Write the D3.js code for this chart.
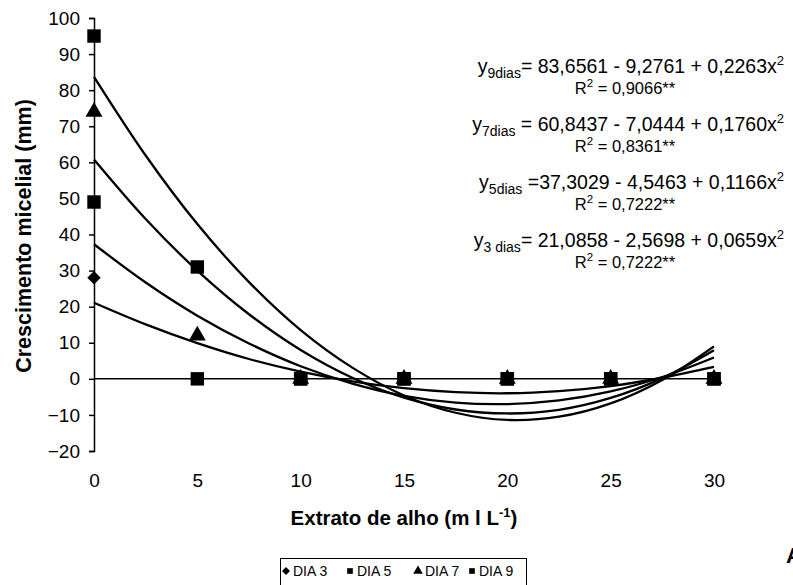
<!DOCTYPE html>
<html>
<head>
<meta charset="utf-8">
<script src="https://cdn.jsdelivr.net/npm/d3@7"></script>
<style>
body{margin:0;background:#fff;}
svg{display:block;font-family:"Liberation Sans",Arial,sans-serif;}
</style>
</head>
<body>
<div id="chart"></div>
<script>
// pontos observados (mm)
var doses=[0,5,10,15,20,25,30];
var dia3=[28,0,0,0,0,0,0];
var dia5=[49,0,0,0,0,0,0];
var dia7=[74,12,0,0,0,0,0];
var dia9=[95,31,0,0,0,0,0];

// curvas de regressao
var xCurva=[0,2.5,5,7.5,10,12.5,15,17.5,20,22.5,25,27.5,30];
var curva9=[83.7,61.9,42.9,26.8,13.5,3.1,-4.6,-9.4,-11.4,-10.5,-6.8,-0.3,9.0];
var curva7=[60.8,44.3,30.0,17.9,8.0,0.3,-5.2,-8.5,-9.6,-8.6,-5.3,0.2,7.9];
var curva5=[37.3,26.7,17.5,9.8,3.5,-1.3,-4.7,-6.6,-7.0,-6.0,-3.5,0.5,5.9];
var curva3=[21.1,15.1,9.9,5.5,2.0,-0.7,-2.6,-3.7,-4.0,-3.4,-2.0,0.3,3.3];

var yTicks=[-20,-10,0,10,20,30,40,50,60,70,80,90,100];
var xTicks=[0,5,10,15,20,25,30];

var equacoes=[
	{sub:"9dias",eq:"= 83,6561 - 9,2761 + 0,2263x",r2:"0,9066**"},
	{sub:"7dias",eq:" = 60,8437 - 7,0444 + 0,1760x",r2:"0,8361**"},
	{sub:"5dias",eq:" =37,3029 - 4,5463 + 0,1166x",r2:"0,7222**"},
	{sub:"3 dias",eq:"= 21,0858 - 2,5698 + 0,0659x",r2:"0,7222**"}
];
var legenda=["DIA 3","DIA 5","DIA 7","DIA 9"];

var W=793,H=585;
var svg=d3.select("#chart").append("svg").attr("width",W).attr("height",H);

var x=d3.scaleLinear().domain([0,30]).range([94,714]);
var y=d3.scaleLinear().domain([-20,100]).range([451,18]);

// eixo y
var yAxis=d3.axisLeft(y).tickValues(yTicks).tickSize(5).tickPadding(9);
var gy=svg.append("g").attr("transform","translate("+x(0)+",0)").call(yAxis);
gy.select(".domain").attr("stroke","#000").attr("stroke-width",1.5);
gy.selectAll(".tick line").attr("stroke","#000").attr("stroke-width",1.5);
gy.selectAll(".tick text").attr("font-size",19).attr("fill","#000").attr("font-family","Liberation Sans, Arial, sans-serif");

// linha do zero
svg.append("line").attr("x1",x(0)).attr("x2",x(30)).attr("y1",y(0)).attr("y2",y(0))
	.attr("stroke","#000").attr("stroke-width",1.5);

// rotulos do eixo x (embaixo)
var xAxis=d3.axisBottom(x).tickValues(xTicks).tickSize(0).tickPadding(0);
var gx=svg.append("g").attr("transform","translate(0,473)").call(xAxis);
gx.select(".domain").remove();
gx.selectAll(".tick text").attr("font-size",19).attr("fill","#000").attr("font-family","Liberation Sans, Arial, sans-serif");

// titulos
svg.append("text").attr("transform","translate(31,236) rotate(-90)")
	.attr("text-anchor","middle").attr("font-size",21.5).attr("font-weight","bold")
	.text("Crescimento micelial (mm)");
var tx=svg.append("text").attr("x",(x(0)+x(30))/2).attr("y",525)
	.attr("text-anchor","middle").attr("font-size",20.5).attr("font-weight","bold");
tx.append("tspan").text("Extrato de alho (m l L");
tx.append("tspan").attr("font-size",13).attr("dy",-8).text("-1");
tx.append("tspan").attr("dy",8).text(")");

// curvas
var line=d3.line().x(function(d){return x(d[0]);}).y(function(d){return y(d[1]);}).curve(d3.curveCatmullRom.alpha(0.5));
[curva3,curva5,curva7,curva9].forEach(function(c){
	svg.append("path").datum(d3.zip(xCurva,c)).attr("d",line)
		.attr("fill","none").attr("stroke","#000").attr("stroke-width",2.3);
});

// marcadores
var simbolos=[
	{dados:dia3,tipo:d3.symbolSquare,tam:90,rot:45},
	{dados:dia5,tipo:d3.symbolSquare,tam:180,rot:0},
	{dados:dia7,tipo:d3.symbolTriangle,tam:125,rot:0},
	{dados:dia9,tipo:d3.symbolSquare,tam:180,rot:0}
];
simbolos.forEach(function(s){
	svg.append("g").selectAll("path").data(d3.zip(doses,s.dados)).enter().append("path")
		.attr("transform",function(d){return "translate("+x(d[0])+","+y(d[1])+") rotate("+s.rot+")";})
		.attr("d",d3.symbol().type(s.tipo).size(s.tam)).attr("fill","#000");
});

// equacoes
var eqY=[73,131,189,247];
equacoes.forEach(function(e,i){
	var t=svg.append("text").attr("x",784).attr("y",eqY[i]).attr("text-anchor","end").attr("font-size",19.5);
	t.append("tspan").text("y");
	t.append("tspan").attr("font-size",14).attr("dy",5).text(e.sub);
	t.append("tspan").attr("dy",-5).text(e.eq);
	t.append("tspan").attr("font-size",13).attr("dy",-8).text("2");
	var r=svg.append("text").attr("x",625).attr("y",eqY[i]+21).attr("text-anchor","middle").attr("font-size",16.5);
	r.append("tspan").text("R");
	r.append("tspan").attr("font-size",11.5).attr("dy",-7).text("2");
	r.append("tspan").attr("dy",7).text(" = "+e.r2);
});

// legenda
var leg=svg.append("g");
leg.append("rect").attr("x",280.5).attr("y",558.5).attr("width",246).attr("height",30)
	.attr("fill","#fff").attr("stroke","#000").attr("stroke-width",1);
var legX=[286,350,418,472];
var legTipos=[d3.symbolSquare,d3.symbolSquare,d3.symbolTriangle,d3.symbolSquare];
var legRot=[45,0,0,0];
legenda.forEach(function(n,i){
	leg.append("path").attr("transform","translate("+legX[i]+",571) rotate("+legRot[i]+")")
		.attr("d",d3.symbol().type(legTipos[i]).size(i==2?40:32)).attr("fill","#000");
	leg.append("text").attr("x",legX[i]+7).attr("y",576).attr("font-size",14).text(n);
});

// letra do painel
svg.append("text").attr("x",786).attr("y",563).attr("font-size",22).attr("font-weight","bold").text("A");
</script>
</body>
</html>
